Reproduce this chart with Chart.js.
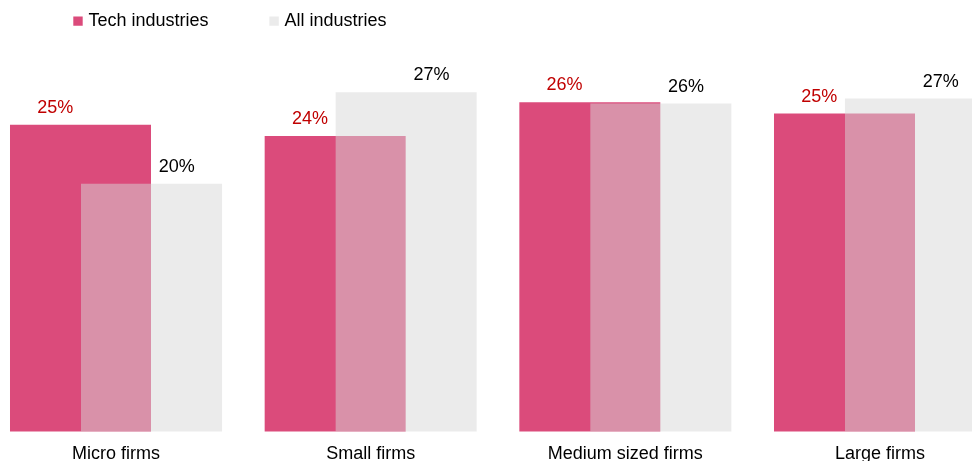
<!DOCTYPE html>
<html>
<head>
<meta charset="utf-8">
<title>Tech industries vs all industries by firm size</title>
<script src="https://cdn.jsdelivr.net/npm/chart.js@4.4.1/dist/chart.umd.min.js"></script>
<style>
  html, body { margin: 0; padding: 0; background: #fff; }
  .chart-wrap { position: relative; width: 972px; height: 461px; overflow: hidden; }
</style>
</head>
<body>
<div class="chart-wrap"><canvas id="firmChart"></canvas></div>
<script>
// values, % of firms
const categories = ["Micro firms", "Small firms", "Medium sized firms", "Large firms"];
const seriesNames = ["Tech industries", "All industries"];
const techValues = [24.5, 23.6, 26.3, 25.4];
const allValues = [19.8, 27.1, 26.2, 26.6];

const techColor = "#DB4B7B";
const allColor = "rgba(215, 215, 215, 0.5)"; // reads as #EBEBEB on white, pinkish over tech bars
const labelColors = ["#C00000", "#000000"];
const fontFamily = "'Liberation Sans', Arial, sans-serif";

Chart.defaults.font.family = fontFamily;
Chart.defaults.color = "#000";

// Tech bars sit behind the translucent "all industries" bars
const techBehind = {
  id: "techBehind",
  beforeDatasetDraw(chart, args) {
    if (args.index === 0) {
      chart.ctx.save();
      chart.ctx.globalCompositeOperation = "destination-over";
    }
  },
  afterDatasetDraw(chart, args) {
    if (args.index === 0) chart.ctx.restore();
  },
};

// Value labels over the free (not overlapped) half of each bar
const valueLabels = {
  id: "valueLabels",
  afterDatasetsDraw(chart) {
    const ctx = chart.ctx;
    ctx.save();
    ctx.font = "18px " + fontFamily;
    ctx.textAlign = "center";
    ctx.textBaseline = "alphabetic";
    chart.data.datasets.forEach(function (ds, i) {
      chart.getDatasetMeta(i).data.forEach(function (bar, j) {
        const shift = i === 0 ? -bar.width / 4 + 10 : bar.width / 4 - 10;
        ctx.fillStyle = labelColors[i];
        ctx.fillText(Math.round(ds.data[j]) + "%", bar.x + shift, bar.y - 12);
      });
    });
    ctx.restore();
  },
};

let firmCanvas = document.getElementById("firmChart");
if (firmCanvas) {
  var ctx = firmCanvas.getContext("2d");
  var data = {
    labels: categories,
    datasets: [
      {
        label: seriesNames[0],
        data: techValues,
        backgroundColor: techColor,
        borderWidth: 0,
        clip: false,
      },
      {
        label: seriesNames[1],
        data: allValues,
        backgroundColor: allColor,
        borderWidth: 0,
        clip: false,
      },
    ],
  };
  var options = {
    responsive: true,
    maintainAspectRatio: false,
    animation: false,
    datasets: {
      bar: {
        // bars twice as wide as their slot -> each pair overlaps by half
        categoryPercentage: 0.5576,
        barPercentage: 1.986,
      },
    },
    layout: {
      padding: {
        top: -51.9,
        left: 12.5,
        right: 92,
        bottom: -15.2,
      },
    },
    plugins: {
      legend: {
        position: "top",
        align: "start",
        labels: {
          usePointStyle: true,
          pointStyle: "rect",
          boxWidth: 3,
          boxHeight: 9.4,
          padding: 64,
          color: "#000",
          font: {
            size: 18,
          },
        },
      },
      tooltip: {
        enabled: false,
      },
    },
    scales: {
      x: {
        offset: false,
        grid: {
          display: false,
          drawTicks: false,
        },
        border: {
          display: false,
        },
        ticks: {
          color: "#000",
          font: {
            size: 18,
          },
          padding: 11.6,
          maxRotation: 0,
          autoSkip: false,
        },
      },
      y: {
        min: 0,
        max: 31.27,
        grid: {
          display: false,
          drawTicks: false,
        },
        border: {
          display: false,
        },
        ticks: {
          display: false,
        },
        afterFit: function (scale) {
          scale.width = 103.5;
        },
      },
    },
  };
  var firmChart = new Chart(ctx, {
    type: "bar",
    data: data,
    options: options,
    plugins: [techBehind, valueLabels],
  });
}
</script>
</body>
</html>
